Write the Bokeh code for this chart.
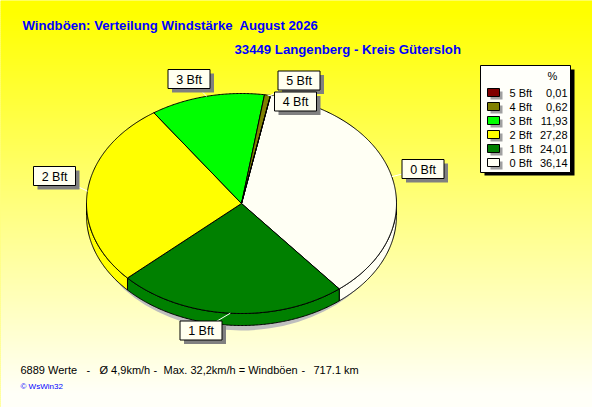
import numpy as np
from bokeh.plotting import figure
from bokeh.models import Range1d
from bokeh.core.properties import value
from bokeh.embed import file_html
from bokeh.resources import INLINE

# ---------------- data ----------------
categories = ["0 Bft", "1 Bft", "2 Bft", "3 Bft", "4 Bft", "5 Bft"]
percent = [36.14, 24.01, 27.28, 11.93, 0.62, 0.01]
colors = ["#FFFFF4", "#008000", "#FFFF00", "#00FF00", "#808000", "#800000"]

title = "Windböen: Verteilung Windstärke\u00a0 August 2026"
subtitle = "33449 Langenberg - Kreis Gütersloh"
footer_parts = ["6889 Werte", "-", "Ø 4,9km/h", "-", "Max. 32,2km/h = Windböen", "-", "717.1 km"]
copyright_text = "© WsWin32"
legend_header = "%"

# ---------------- layout ----------------
FONT = value("Liberation Sans")
W, H = 592, 407
X0, Y0 = 0, 0
p = figure(width=W, height=H, x_range=Range1d(X0, X0 + W), y_range=Range1d(Y0 + H, Y0),
           output_backend="svg", toolbar_location=None, min_border=0,
           x_axis_type=None, y_axis_type=None)
p.outline_line_color = None
p.background_fill_color = "#FFFF00"
p.border_fill_color = "#FFFFFF"

# background gradient (yellow -> almost white, top to bottom)
ys = np.arange(Y0, Y0 + H, 2.0)
blue = np.clip((ys - 10) * 0.65, 0, 248).astype(int)
bg_cols = ["#FFFF%02X" % b for b in blue]
p.quad(left=X0, right=X0 + W, top=ys, bottom=ys + 2.6, fill_color=bg_cols, line_color=None)

# ---------------- pie ----------------
cx, cy, a, b, depth = 241, 203, 155, 110, 12
start = 79.2
fr = np.array(percent) / np.sum(percent)
ends = start - np.cumsum(fr) * 360.0
starts = ends + fr * 360.0

# shadow
p.ellipse(x=cx - 1, y=cy + 15, width=2 * a - 10, height=2 * b + 4, fill_color="#BEBEBE", line_color=None)

# side walls (front half)
side_xs, side_ys, side_cols = [], [], []
for i in range(len(percent)):
    hi = min(starts[i], 0.0)
    lo = max(ends[i], -180.0)
    if hi > lo:
        t = np.radians(np.linspace(hi, lo, max(3, int((hi - lo) * 2))))
        ex = cx + a * np.cos(t)
        ey = cy - b * np.sin(t)
        side_xs.append(list(ex) + list(ex[::-1]))
        side_ys.append(list(ey) + list(ey[::-1] + depth))
        side_cols.append(colors[i])
p.patches(side_xs, side_ys, fill_color=side_cols, line_color="black", line_width=1)

# top surface
top_xs, top_ys = [], []
for i in range(len(percent)):
    t = np.radians(np.linspace(starts[i], ends[i], max(3, int(fr[i] * 720))))
    top_xs.append([cx] + list(cx + a * np.cos(t)))
    top_ys.append([cy] + list(cy - b * np.sin(t)))
p.patches(top_xs, top_ys, fill_color=colors, line_color="black", line_width=1)

# ---------------- slice labels ----------------
label_pos = [(422.5, 168.5), (200.5, 330.0), (54.0, 175.5), (188.5, 78.5), (295.0, 101.0), (298.5, 80.0)]
mid = np.radians((starts + ends) / 2)
lx0 = cx + a * np.cos(mid)
ly0 = cy - b * np.sin(mid)
for i in range(len(categories)):
    p.line([lx0[i], label_pos[i][0]], [ly0[i], label_pos[i][1]], line_color="white", line_width=1)
bw, bh = 42, 19
for i in [3, 2, 0, 1, 5, 4]:
    x, y = label_pos[i]
    p.quad(left=x - bw / 2 + 4, right=x + bw / 2 + 4, top=y - bh / 2 + 4, bottom=y + bh / 2 + 4,
           fill_color="#808080", line_color=None)
    p.quad(left=x - bw / 2, right=x + bw / 2, top=y - bh / 2, bottom=y + bh / 2,
           fill_color="#FFFFF0", line_color="black", line_width=1)
    p.text(x=[x], y=[y + 0.5], text=[categories[i]], text_align="center", text_baseline="middle",
           text_font=FONT, text_font_size="12.5px", text_color="black")

# ---------------- legend ----------------
L, R, T, B = 480, 570, 65, 172
p.quad(left=L + 4, right=R + 4, top=T + 4, bottom=B + 3, fill_color="black", line_color=None)
p.quad(left=L, right=R, top=T, bottom=B, fill_color="#FFFFFA", line_color="black", line_width=1)
p.text(x=[552], y=[75], text=[legend_header], text_align="center", text_baseline="middle",
       text_font=FONT, text_font_size="11px", text_color="black")
order = list(range(len(categories)))[::-1]
row_y = [92 + 14 * k for k in range(len(order))]
sw_l, sw_r = 487, 499
p.quad(left=[sw_l + 3] * len(order), right=[sw_r + 3] * len(order),
       top=[y - 4 + 3 for y in row_y], bottom=[y + 4 + 3 for y in row_y],
       fill_color="#A0A0A0", line_color=None)
p.quad(left=[sw_l] * len(order), right=[sw_r] * len(order),
       top=[y - 4 for y in row_y], bottom=[y + 4 for y in row_y],
       fill_color=[colors[i] for i in order], line_color="black", line_width=1)
p.text(x=[509] * len(order), y=[y + 0.5 for y in row_y], text=[categories[i] for i in order],
       text_align="left", text_baseline="middle", text_font=FONT, text_font_size="11px", text_color="black")
p.text(x=[567] * len(order), y=[y + 0.5 for y in row_y],
       text=[("%.2f" % percent[i]).replace(".", ",") for i in order],
       text_align="right", text_baseline="middle", text_font=FONT, text_font_size="11px", text_color="black")

# ---------------- titles and footer ----------------
p.text(x=[22], y=[25], text=[title], text_align="left", text_baseline="middle",
       text_font=FONT, text_font_style="bold", text_font_size="13.2px", text_color="#0000FF")
p.text(x=[234], y=[49], text=[subtitle], text_align="left", text_baseline="middle",
       text_font=FONT, text_font_style="bold", text_font_size="13.2px", text_color="#0000FF")
footer_x = [20, 86, 99, 153, 163, 301, 313]
p.text(x=footer_x, y=[369] * len(footer_parts), text=footer_parts, text_align="left", text_baseline="middle",
       text_font=FONT, text_font_size="11px", text_color="black")
p.text(x=[20], y=[386], text=[copyright_text], text_align="left", text_baseline="middle",
       text_font=FONT, text_font_size="8px", text_color="#0000FF")

open("out.html", "w").write(file_html(p, INLINE))
